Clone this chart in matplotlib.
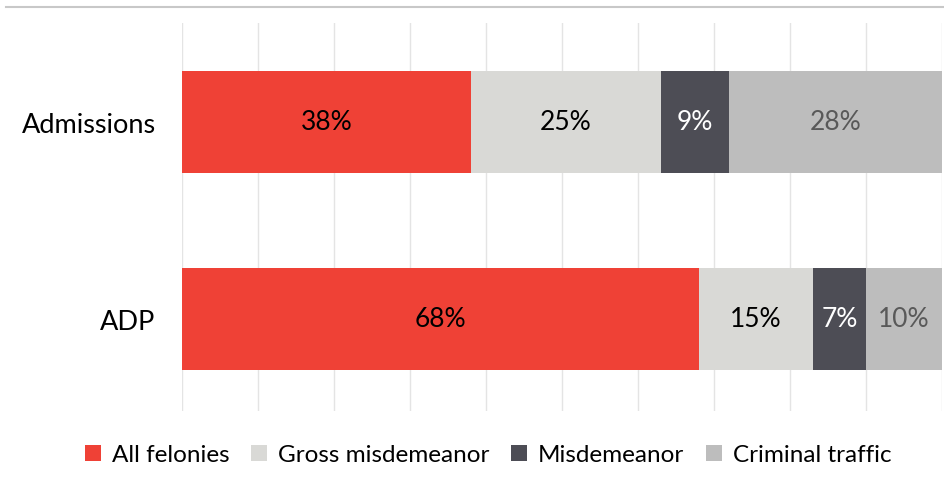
import matplotlib.pyplot as plt
from matplotlib.lines import Line2D
from matplotlib.patches import Patch

plt.rcParams['font.family'] = ['Lato', 'DejaVu Sans']

groups = ["Admissions", "ADP"]
series = ["All felonies", "Gross misdemeanor", "Misdemeanor", "Criminal traffic"]
values = {
    "All felonies": [38, 68],
    "Gross misdemeanor": [25, 15],
    "Misdemeanor": [9, 7],
    "Criminal traffic": [28, 10],
}
colors = ["#EF4136", "#D9D9D6", "#4D4D55", "#BDBDBD"]
text_colors = ["black", "black", "white", "#595959"]

fig = plt.figure(figsize=(9.45, 4.81), dpi=100)
ax = fig.add_axes([182 / 945, 69 / 481, 760 / 945, 388 / 481])

ypos = [0, 1]
left = [0, 0]
for name, c, tc in zip(series, colors, text_colors):
    vals = values[name]
    ax.barh(ypos, vals, left=left, height=0.518, color=c, zorder=2, label=name)
    for y, l, v in zip(ypos, left, vals):
        ax.text(l + v / 2, y, f"{v}%", ha="center", va="center",
                fontsize=19, color=tc, zorder=3)
    left = [l + v for l, v in zip(left, vals)]

ax.set_xlim(0, 100)
ax.set_ylim(1.467, -0.5025)
ax.set_xticks(range(0, 101, 10))
ax.xaxis.grid(True, color="#E4E4E4", linewidth=1)
ax.tick_params(axis="x", length=0, labelbottom=False)
ax.tick_params(axis="y", length=0, pad=19)
ax.set_yticks(ypos)
ax.set_yticklabels(groups, fontsize=19.5)
for s in ax.spines.values():
    s.set_visible(False)

# thin rule across the top
fig.add_artist(Line2D([6 / 945, 1], [1 - 8 / 481] * 2, color="#C8C8C8", linewidth=1.5))

handles = [Patch(facecolor=c, label=n) for n, c in zip(series, colors)]
fig.legend(handles=handles, loc="center", bbox_to_anchor=(488 / 945, 1 - 456 / 481),
           ncol=4, frameon=False, fontsize=17.5, handlelength=0.65, handleheight=0.65,
           handletextpad=0.45, columnspacing=0.9)

fig.savefig("out.png", dpi=100)
